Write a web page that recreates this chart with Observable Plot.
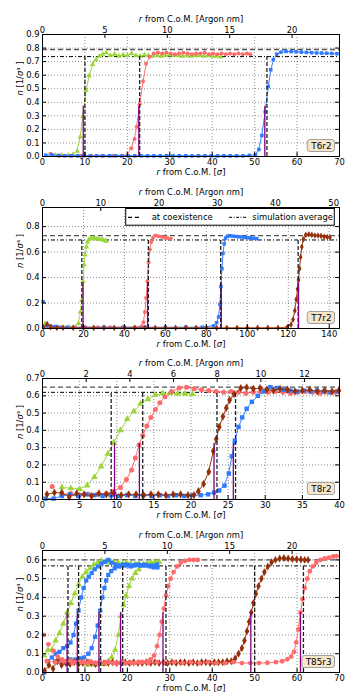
<!DOCTYPE html>
<html><head><meta charset="utf-8">
<script src="https://cdn.jsdelivr.net/npm/d3@7"></script>
<script src="https://cdn.jsdelivr.net/npm/@observablehq/plot@0.6"></script>
<style>
body{margin:0;background:#fff;}
#fig{position:relative;width:350px;height:700px;overflow:hidden;background:#fff;}
</style></head><body><div id="fig"></div>
<script>
// ---------- Panel 1 : T6r2 ----------
const t6r2XTicks = [0,10,20,30,40,50,60,70];
const t6r2YTicks = [0,0.1,0.2,0.3,0.4,0.5,0.6,0.7,0.8,0.9];
const t6r2NmTicks = [0,5,10,15,20];
const t6r2GreenX = [3.0,4.5,6.0,7.2,8.2,8.9,9.5,10.25,11.0,11.8,12.6,13.4,14.2,15.0,16.0,17,18,19,20,21,22,23,24,25,26,27,28,29,30,31,32,33,34,35,36,37,38,39,40,41,42];
const t6r2GreenN = [0.01,0.01,0.01,0.015,0.04,0.145,0.295,0.49,0.597,0.68,0.715,0.74,0.755,0.765,0.745,0.755,0.74,0.75,0.745,0.76,0.745,0.74,0.75,0.745,0.74,0.745,0.74,0.745,0.75,0.745,0.745,0.74,0.745,0.74,0.745,0.745,0.74,0.745,0.74,0.74,0.735];
const t6r2RedX = [1.9,4.0,6.5,9.0,11.5,14.0,16.5,18.5,20.0,20.9,21.7,22.2,22.9,23.7,24.4,25.2,26.2,27.2,28.2,29.2,30.2,31.2,32.2,33.2,34.2,35.2,36.2,37.2,38.2,39.2,40.2,41.2,42.2,43.2,44.2,45.2,46.2,47.2,48.2,49.0];
const t6r2RedN = [0.02,0.005,0.005,0.005,0.005,0.005,0.005,0.005,0.01,0.06,0.13,0.22,0.385,0.555,0.685,0.735,0.76,0.765,0.76,0.765,0.76,0.755,0.76,0.765,0.76,0.755,0.76,0.76,0.765,0.755,0.76,0.755,0.76,0.755,0.76,0.755,0.76,0.755,0.76,0.755];
const t6r2BlueX = [0.75,2.25,3.75,5.25,6.75,8.25,9.75,11.25,12.75,14.25,15.75,17.25,18.75,20.25,21.75,23.25,24.75,26.25,27.75,29.25,30.75,32.25,33.75,35.25,36.75,38.25,39.75,41.25,42.75,44.25,45.75,47.25,48.75,50.2,51.0,51.7,52.5,53.2,53.8,54.4,55.2,56.2,57.4,58.6,59.8,61.0,62.2,63.4,64.6,65.8,67.0,68.2,69.4];
const t6r2BlueN = [0.01,0.012,0.008,0.005,0.005,0.005,0.005,0.005,0.005,0.005,0.005,0.005,0.005,0.005,0.005,0.005,0.005,0.005,0.005,0.005,0.005,0.005,0.005,0.005,0.005,0.005,0.005,0.005,0.005,0.005,0.005,0.005,0.008,0.012,0.052,0.155,0.33,0.516,0.64,0.715,0.755,0.77,0.775,0.774,0.772,0.77,0.768,0.766,0.764,0.763,0.762,0.76,0.758];
const t6r2Coex = 0.789, t6r2Avg = 0.737;
const t6r2CoexR = [10.0,22.9,52.9];
const t6r2HalfR = [9.6,22.7,52.4];
const t6r2HalfN = 0.37;

// ---------- Panel 2 : T7r2 ----------
const t7r2XTicks = [0,20,40,60,80,100,120,140];
const t7r2YTicks = [0,0.2,0.4,0.6,0.8];
const t7r2NmTicks = [0,10,20,30,40,50];
const t7r2GreenX = [1.3,4,7,10,13,16,17.6,18.5,19.2,19.8,20.3,20.8,21.4,22.0,22.7,23.6,24.6,25.6,26.6,27.6,28.6,29.6,30.5,31.2];
const t7r2GreenN = [0.04,0.01,0.01,0.01,0.01,0.01,0.04,0.13,0.22,0.37,0.50,0.58,0.64,0.68,0.70,0.71,0.71,0.705,0.705,0.70,0.70,0.695,0.69,0.685];
const t7r2RedX = [3,9,15,21,27,33,39,45,48.3,49.3,50.0,50.6,51.2,51.8,52.4,53.1,54.0,55.1,56.5,58.0,59.5,61.0,62.6];
const t7r2RedN = [0.01,0.01,0.01,0.01,0.01,0.01,0.01,0.01,0.015,0.05,0.13,0.24,0.37,0.52,0.62,0.68,0.715,0.73,0.725,0.72,0.715,0.71,0.705];
const t7r2BlueX = [0.3,2,4,6,8,12,20,30,40,50,60,70,78,83.5,85.0,86.0,86.6,87.1,87.6,88.1,88.7,89.4,90.3,91.5,93.0,94.5,96.0,97.5,99.0,100.5,102.0,103.5,104.6];
const t7r2BlueN = [0.21,0.02,0.02,0.015,0.01,0.01,0.01,0.01,0.01,0.01,0.01,0.01,0.01,0.02,0.045,0.09,0.19,0.33,0.47,0.59,0.665,0.71,0.725,0.728,0.725,0.722,0.72,0.718,0.715,0.712,0.71,0.708,0.705];
const t7r2BrownX = [0.5,2.3,4,7,10,15,20,25,30,35,40,45,50,55,60,65,70,75,80,85,90,95,100,105,110,115,119.5,121.3,122.3,123.2,123.9,124.5,125.0,125.5,126.0,126.6,127.3,128.5,130.0,131.5,133.0,134.5,136.0,137.5,139.0,140.3];
const t7r2BrownN = [0.01,0.035,0.01,0.005,0.005,0.005,0.005,0.005,0.005,0.005,0.005,0.005,0.005,0.005,0.005,0.005,0.005,0.005,0.005,0.005,0.005,0.005,0.005,0.005,0.005,0.005,0.01,0.03,0.07,0.14,0.23,0.31,0.38,0.47,0.56,0.64,0.70,0.735,0.74,0.735,0.73,0.73,0.727,0.72,0.718,0.715];
const t7r2Coex = 0.729, t7r2Avg = 0.695;
const t7r2CoexR = [19.2,51.7,87.0,124.8];
const t7r2HalfR = [19.8,51.3,87.3,125.0];
const t7r2HalfN = 0.36;

// ---------- Panel 3 : T8r2 ----------
const t8r2XTicks = [0,5,10,15,20,25,30,35,40];
const t8r2YTicks = [0,0.1,0.2,0.3,0.4,0.5,0.6,0.7];
const t8r2NmTicks = [0,2,4,6,8,10,12];
const t8r2GreenX = [2.6,3.8,5.0,6.0,7.0,7.9,8.8,9.6,10.5,11.4,12.3,13.2,14.2,15.2,16.2,17.2,18.2,19.2,20.2];
const t8r2GreenN = [0.07,0.065,0.06,0.08,0.13,0.19,0.265,0.33,0.40,0.465,0.51,0.555,0.58,0.605,0.615,0.615,0.612,0.612,0.61];
const t8r2RedX = [1.3,2.6,3.8,5.0,6.2,7.4,8.6,9.6,10.5,11.3,12.0,12.5,13.0,13.5,14.05,14.6,15.2,15.8,16.5,17.4,18.4,19.4,20.4,21.4,22.4,23.4,24.4,25.4,26.4,27.4,28.4,29.4,30.4,31.4,32.4,33.4,34.4,35.4,36.4,37.4,38.4,39.4];
const t8r2RedN = [0.075,0.03,0.035,0.025,0.03,0.03,0.035,0.048,0.07,0.115,0.17,0.24,0.315,0.37,0.425,0.475,0.52,0.56,0.595,0.625,0.645,0.65,0.64,0.635,0.63,0.625,0.62,0.625,0.62,0.615,0.62,0.625,0.62,0.625,0.62,0.615,0.62,0.625,0.62,0.615,0.62,0.62];
const t8r2BlueX = [0.4,1.5,2.6,3.7,4.8,5.9,7.0,8.1,9.2,10.3,11.4,12.5,13.6,14.7,15.8,16.9,18.0,19.1,20.2,21.3,22.3,23.1,23.8,24.5,25.1,25.5,25.9,26.4,26.9,27.5,28.2,29.0,29.8,30.7,31.6,32.5,33.4,34.3,35.2,36.1,37.0,37.9,38.8,39.7];
const t8r2BlueN = [0.005,0.005,0.02,0.03,0.02,0.03,0.025,0.02,0.025,0.02,0.025,0.02,0.025,0.02,0.025,0.02,0.025,0.02,0.025,0.025,0.03,0.04,0.052,0.08,0.15,0.25,0.34,0.42,0.475,0.525,0.565,0.6,0.625,0.65,0.645,0.635,0.63,0.625,0.63,0.625,0.63,0.625,0.62,0.625];
const t8r2BrownX = [0.6,1.6,2.6,3.6,4.6,5.6,6.6,7.6,8.6,9.6,10.6,11.6,12.6,13.6,14.6,15.6,16.6,17.6,18.6,19.6,20.4,21.0,21.7,22.4,23.0,23.4,23.8,24.3,24.75,25.2,25.8,26.7,27.5,28.4,29.3,30.2,31.1,32.0,33.0,34.0,35.0,36.0,37.0,38.0,39.0,39.9];
const t8r2BrownN = [0.03,0.04,0.04,0.015,0.035,0.03,0.02,0.035,0.03,0.035,0.025,0.03,0.03,0.025,0.03,0.03,0.025,0.03,0.03,0.025,0.025,0.048,0.09,0.16,0.28,0.35,0.42,0.48,0.53,0.575,0.61,0.645,0.648,0.64,0.645,0.635,0.63,0.64,0.635,0.625,0.63,0.635,0.625,0.63,0.625,0.63];
const t8r2Coex = 0.65, t8r2Avg = 0.62;
const t8r2CoexR = [9.25,13.5,23.5,26.0];
const t8r2HalfR = [9.7,13.05,23.1,25.7];
const t8r2HalfN = 0.325;

// ---------- Panel 4 : T85r3 ----------
const t85r3XTicks = [0,10,20,30,40,50,60,70];
const t85r3YTicks = [0,0.1,0.2,0.3,0.4,0.5,0.6];
const t85r3NmTicks = [0,5,10,15,20];
const t85r3Green1X = [0.4,1.3,2.2,3.1,4.0,4.9,5.8,6.7,7.6,8.5,9.4,10.3,11.2,12.1,13.0,13.9,14.8,15.8,16.8,17.8,18.8,19.8,20.8,21.8,22.8,23.8,24.8,25.8,26.8];
const t85r3Green1N = [0.09,0.12,0.12,0.17,0.21,0.26,0.32,0.37,0.42,0.47,0.51,0.535,0.555,0.575,0.585,0.595,0.59,0.585,0.59,0.585,0.58,0.585,0.58,0.575,0.58,0.575,0.58,0.575,0.58];
const t85r3Green2X = [9.5,10.5,11.5,12.5,13.5,14.5,15.5,16.3,17.1,17.9,18.5,19.1,19.7,20.4,21.1,21.9,22.7,23.6,24.6,25.6,26.6,27.5];
const t85r3Green2N = [0.05,0.04,0.045,0.04,0.05,0.045,0.06,0.08,0.12,0.2,0.3,0.36,0.41,0.46,0.5,0.53,0.55,0.57,0.58,0.585,0.59,0.59];
const t85r3Blue1X = [0.4,1.3,2.2,3.1,4.0,4.9,5.8,6.6,7.3,7.9,8.5,9.1,9.7,10.3,10.9,11.6,12.3,13.1,13.9,14.7,15.5,16.3,17.2,18.1,19.0,19.9,20.8,21.7,22.6,23.5,24.4,25.3,26.2,27.1];
const t85r3Blue1N = [0.0,0.06,0.08,0.1,0.11,0.13,0.14,0.16,0.2,0.26,0.33,0.4,0.45,0.49,0.51,0.53,0.55,0.565,0.58,0.59,0.6,0.585,0.575,0.57,0.575,0.57,0.565,0.57,0.575,0.57,0.57,0.565,0.56,0.56];
const t85r3Blue2X = [3.0,4.2,5.4,6.6,7.8,9.0,9.8,10.8,11.6,12.4,13.0,13.6,14.1,14.6,15.0,15.5,16.2,17.0,18,19,20,21,22,23,24,25,26,27];
const t85r3Blue2N = [0.06,0.065,0.06,0.07,0.07,0.075,0.08,0.1,0.13,0.19,0.25,0.33,0.4,0.45,0.49,0.52,0.54,0.555,0.565,0.57,0.575,0.57,0.575,0.57,0.575,0.57,0.57,0.575];
const t85r3Red1X = [0.3,1.4,2.6,3.6,4.6,5.6,6.6,7.6,8.6,9.6,10.6,11.6,12.6,13.6,14.6,15.6,16.6,17.6,18.6,19.6,20.6,21.6,22.6,23.6,24.6,25.5,26.3,27.0,27.6,28.1,28.6,29.1,29.6,30.2,30.9,31.7,32.6,33.6,34.6,35.6,36.6];
const t85r3Red1N = [0.2,0.15,0.115,0.085,0.07,0.06,0.065,0.055,0.06,0.055,0.05,0.055,0.05,0.055,0.05,0.055,0.05,0.05,0.055,0.05,0.055,0.05,0.055,0.055,0.06,0.07,0.09,0.14,0.2,0.27,0.34,0.41,0.46,0.5,0.535,0.565,0.585,0.595,0.6,0.6,0.6];
const t85r3Red2X = [1,3,5,7,9,11,13,15,17,19,21,23,25,27,29,31,33,35,37,39,41,43,45,47,49,51,53,55,56.5,57.7,58.6,59.3,59.8,60.3,60.8,61.3,61.8,62.4,63.0,63.7,64.5,65.5,66.5,67.5,68.5,69.3];
const t85r3Red2N = [0.06,0.055,0.06,0.05,0.055,0.06,0.05,0.055,0.05,0.055,0.05,0.055,0.05,0.055,0.05,0.055,0.05,0.055,0.05,0.055,0.05,0.05,0.055,0.05,0.05,0.05,0.052,0.055,0.06,0.07,0.085,0.11,0.16,0.23,0.32,0.39,0.45,0.5,0.54,0.565,0.585,0.6,0.608,0.612,0.618,0.62];
const t85r3BrownX = [0.5,1.5,2.5,3.5,4.5,5.5,6.5,7.5,8.5,9.5,10.5,11.5,12.5,13.5,14.5,15.5,16.5,17.5,18.5,19.5,20.5,21.5,22.5,23.5,24.5,25.5,26.5,27.5,28.5,29.5,30.5,31.5,32.5,33.5,34.5,35.5,36.5,37.5,38.5,39.5,40.5,41.5,42.5,43.5,44.5,45.4,46.2,47.0,47.6,48.2,48.7,49.2,49.7,50.3,50.9,51.6,52.3,53.1,54.0,54.9,55.9,56.9,57.9,58.9,59.9,60.9,61.8,62.6];
const t85r3BrownN = [0.01,0.04,0.02,0.06,0.04,0.05,0.045,0.055,0.045,0.05,0.055,0.05,0.045,0.055,0.05,0.05,0.055,0.05,0.05,0.055,0.05,0.055,0.05,0.05,0.055,0.05,0.055,0.05,0.055,0.05,0.055,0.05,0.055,0.055,0.05,0.055,0.05,0.055,0.055,0.05,0.055,0.055,0.055,0.06,0.06,0.075,0.1,0.13,0.17,0.22,0.27,0.32,0.37,0.42,0.46,0.5,0.535,0.565,0.587,0.6,0.607,0.61,0.607,0.605,0.603,0.602,0.6,0.6];
const t85r3Coex = 0.6, t85r3Avg = 0.568;
const t85r3CoexR = [6.0,8.5,13.7,18.9,29.1,50.0,61.5];
const t85r3HalfR = [5.8,8.2,13.3,18.4,28.4,49.1,60.8];
const t85r3HalfN = 0.32;

const xTitleBottom = "r from C.o.M. [σ]";
const xTitleTop = "r from C.o.M. [Argon nm]";
const yTitle = "n [1/σ³]";
const legendLabels = ["at coexistence", "simulation average"];

// ---------- drawing ----------
const GREEN = "#9ad63a", RED = "#ff6b6b", BLUE = "#2f7bff", BROWN = "#96300a", PURPLE = "#800080";
const zip = (X, N) => X.map((x, i) => ({x, n: N[i]})).filter(d => d.n !== undefined);

const panels = [
  {top: 0, mt: 34, mb: 26, xMax: 70, yMax: 0.9, nmMax: 23.8, xTicks: t6r2XTicks, yTicks: t6r2YTicks, nmTicks: t6r2NmTicks,
   label: "T6r2", r: 2.0, coex: t6r2Coex, avg: t6r2Avg, coexR: t6r2CoexR, halfR: t6r2HalfR, halfN: t6r2HalfN,
   series: [[t6r2GreenX, t6r2GreenN, GREEN, "triangle", 0], [t6r2RedX, t6r2RedN, RED, "circle", 1], [t6r2BlueX, t6r2BlueN, BLUE, "square", 0]]},
  {top: 175, mt: 32, mb: 29, xMax: 145, yMax: 0.95, nmMax: 51, xTicks: t7r2XTicks, yTicks: t7r2YTicks, nmTicks: t7r2NmTicks,
   label: "T7r2", r: 2.0, coex: t7r2Coex, avg: t7r2Avg, coexR: t7r2CoexR, halfR: t7r2HalfR, halfN: t7r2HalfN, legend: true,
   series: [[t7r2GreenX, t7r2GreenN, GREEN, "triangle", 1], [t7r2RedX, t7r2RedN, RED, "circle", 0], [t7r2BlueX, t7r2BlueN, BLUE, "square", 1], [t7r2BrownX, t7r2BrownN, BROWN, "diamond", 0]]},
  {top: 350, mt: 28, mb: 33, xMax: 40, yMax: 0.7, nmMax: 13.6, xTicks: t8r2XTicks, yTicks: t8r2YTicks, nmTicks: t8r2NmTicks,
   label: "T8r2", r: 2.5, coex: t8r2Coex, avg: t8r2Avg, coexR: t8r2CoexR, halfR: t8r2HalfR, halfN: t8r2HalfN,
   series: [[t8r2GreenX, t8r2GreenN, GREEN, "triangle", 0], [t8r2RedX, t8r2RedN, RED, "circle", 1], [t8r2BlueX, t8r2BlueN, BLUE, "square", 0], [t8r2BrownX, t8r2BrownN, BROWN, "diamond", 0]]},
  {top: 525, mt: 25, mb: 35, xMax: 70, yMax: 0.65, nmMax: 23.8, xTicks: t85r3XTicks, yTicks: t85r3YTicks, nmTicks: t85r3NmTicks,
   label: "T85r3", r: 2.4, coex: t85r3Coex, avg: t85r3Avg, coexR: t85r3CoexR, halfR: t85r3HalfR, halfN: t85r3HalfN,
   series: [[t85r3Green1X, t85r3Green1N, GREEN, "triangle", 0], [t85r3Green2X, t85r3Green2N, GREEN, "triangle", 0],
            [t85r3Blue1X, t85r3Blue1N, BLUE, "square", 1], [t85r3Blue2X, t85r3Blue2N, BLUE, "square", 0],
            [t85r3BrownX, t85r3BrownN, BROWN, "diamond", 0],
            [t85r3Red1X, t85r3Red1N, RED, "circle", 4], [t85r3Red2X, t85r3Red2N, RED, "circle", 0]]}
];

const W = 350, H = 182, ML = 42, MR = 11;
const fig = document.getElementById("fig");

const richMap = {
  [xTitleBottom]: '<tspan font-style="italic">r</tspan> from C.o.M. [<tspan font-style="italic">σ</tspan>]',
  [xTitleTop]: '<tspan font-style="italic">r</tspan> from C.o.M. [Argon <tspan font-style="italic">n</tspan>m]',
  [yTitle]: '<tspan font-style="italic">n</tspan> [1/<tspan font-style="italic">σ</tspan>³ ]'
};

panels.forEach(p => {
  const ih = H - p.mt - p.mb, iw = W - ML - MR;
  const k = p.xMax / p.nmMax;
  const topTicks = p.nmTicks.map(t => t * k);
  const gridStyle = {stroke: "#000", strokeOpacity: 0.55, strokeWidth: 0.8, strokeDasharray: "1,2"};
  const marks = [
    Plot.gridX(p.xTicks, {x: d => d, ...gridStyle}),
    Plot.gridY(p.yTicks, {y: d => d, ...gridStyle}),
    Plot.ruleY([p.coex], {y: d => d, stroke: "#555", strokeWidth: 1.4, strokeDasharray: "5,3"}),
    Plot.ruleY([p.avg], {y: d => d, stroke: "#000", strokeWidth: 1, strokeDasharray: "4,2,1,2"})
  ];
  p.series.forEach(([X, N, c, sym, skip]) => {
    const data = zip(X, N);
    marks.push(Plot.line(data.slice(skip), {x: d => d.x, y: d => d.n, stroke: c, strokeWidth: 1, curve: "basis"}));
    marks.push(Plot.dot(data, {x: d => d.x, y: d => d.n, fill: c, symbol: sym, r: p.r, stroke: "none"}));
  });
  marks.push(
    Plot.ruleX(p.coexR, {x: d => d, y1: 0, y2: p.avg, stroke: "#222", strokeWidth: 1.3, strokeDasharray: "4,2"}),
    Plot.ruleX(p.halfR, {x: d => d, y1: 0, y2: p.halfN, stroke: PURPLE, strokeWidth: 1.3}),
    Plot.tickX(p.xTicks, {x: d => d, insetTop: ih - 4, stroke: "#000"}),
    Plot.tickX(topTicks, {x: d => d, insetBottom: ih - 4, stroke: "#000"}),
    Plot.tickY(p.yTicks, {y: d => d, insetRight: iw - 4, stroke: "#000"}),
    Plot.tickY(p.yTicks, {y: d => d, insetLeft: iw - 4, stroke: "#000"}),
    Plot.axisX(p.xTicks, {anchor: "bottom", tickSize: 0, tickPadding: 3, tickFormat: d => String(d), label: null}),
    Plot.axisX(topTicks, {anchor: "top", tickSize: 0, tickPadding: 2, tickFormat: d => String(Math.round(d / k)), label: null}),
    Plot.axisY(p.yTicks, {anchor: "left", tickSize: 0, tickPadding: 3, tickFormat: d => d.toFixed(1), label: null}),
    Plot.frame({stroke: "#000", strokeWidth: 1}),
    Plot.text([xTitleBottom], {text: d => d, frameAnchor: "bottom", dy: 18.5}),
    Plot.text([xTitleTop], {text: d => d, frameAnchor: "top", dy: -18.5}),
    Plot.text([yTitle], {text: d => d, frameAnchor: "left", dx: -22, rotate: -90}),
    Plot.text([p.label], {text: d => d, frameAnchor: "bottom-right", textAnchor: "end", dx: -8, dy: -8, fontSize: 8.8})
  );
  const svg = Plot.plot({
    width: W, height: H, marginTop: p.mt, marginBottom: p.mb, marginLeft: ML, marginRight: MR,
    x: {domain: [0, p.xMax], label: null},
    y: {domain: [0, p.yMax], label: null},
    style: {fontSize: "8.4px", fontFamily: "'DejaVu Sans', sans-serif", background: "none", overflow: "visible", color: "#000"},
    marks
  });
  svg.style.position = "absolute";
  svg.style.left = "0px";
  svg.style.top = p.top + "px";
  fig.appendChild(svg);

  // rich (italic) math text and panel label box
  svg.querySelectorAll("text").forEach(t => {
    const s = t.textContent;
    if (richMap[s]) t.innerHTML = richMap[s];
    if (s === p.label) {
      const b = t.getBBox();
      const rect = document.createElementNS("http://www.w3.org/2000/svg", "rect");
      rect.setAttribute("x", b.x - 3);
      rect.setAttribute("y", b.y - 1);
      rect.setAttribute("width", b.width + 6);
      rect.setAttribute("height", b.height + 2);
      rect.setAttribute("rx", 2.5);
      rect.setAttribute("fill", "#f7e6cc");
      rect.setAttribute("stroke", "#8a8a8a");
      rect.setAttribute("stroke-width", 0.8);
      const tr = t.getAttribute("transform");
      if (tr) rect.setAttribute("transform", tr);
      t.parentNode.insertBefore(rect, t);
    }
  });

  if (p.legend) {
    const g = d3.select(svg).append("g").attr("text-anchor", "start");
    const ly = p.mt + 10.3;
    g.append("rect").attr("x", 125.7).attr("y", p.mt + 1.5).attr("width", 208.6).attr("height", 16.7)
      .attr("fill", "#fff").attr("stroke", "#000").attr("stroke-width", 1);
    g.append("line").attr("x1", 128).attr("x2", 142).attr("y1", ly).attr("y2", ly)
      .attr("stroke", "#000").attr("stroke-width", 1.2).attr("stroke-dasharray", "4,3");
    g.append("text").attr("x", 151.7).attr("y", ly).attr("dy", "0.32em").attr("text-anchor", "start").text(legendLabels[0]);
    g.append("line").attr("x1", 229).attr("x2", 247).attr("y1", ly).attr("y2", ly)
      .attr("stroke", "#000").attr("stroke-width", 1).attr("stroke-dasharray", "3,1.5,1,1.5");
    g.append("text").attr("x", 252.3).attr("y", ly).attr("dy", "0.32em").attr("text-anchor", "start").text(legendLabels[1]);
  }
});
</script></body></html>
